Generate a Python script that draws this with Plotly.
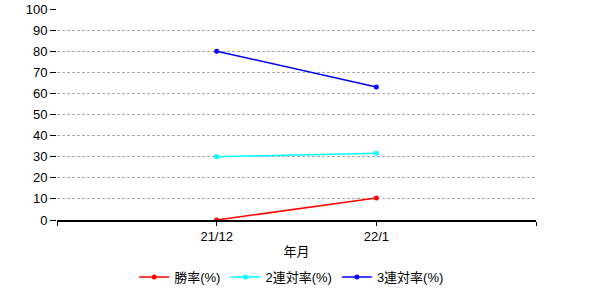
import plotly.graph_objects as go

categories = ["21/12", "22/1"]
win_rate = [0, 10.4]
rentai_rate = [30, 31.6]
sanrentai_rate = [80, 63]
series_names = ["勝率(%)", "2連対率(%)", "3連対率(%)"]
series_colors = ["#FF0000", "#00FFFF", "#0000FF"]
y_ticks = list(range(0, 101, 10))

xpos = list(range(len(categories)))

fig = go.Figure()
for name, vals, col in zip(series_names, [win_rate, rentai_rate, sanrentai_rate], series_colors):
    fig.add_trace(go.Scatter(
        x=xpos, y=vals, name=name, mode="lines+markers",
        line=dict(color=col, width=1.5),
        marker=dict(color=col, size=5),
    ))

fig.update_layout(
    width=600, height=300,
    margin=dict(l=57, r=64, t=9, b=80, autoexpand=False),
    paper_bgcolor="white", plot_bgcolor="white",
    font=dict(family="Arial, Liberation Sans, Noto Sans CJK JP", size=13, color="black"),
    showlegend=True,
    legend=dict(orientation="h", x=0.49, xanchor="center", y=-0.27, yanchor="middle",
                font=dict(size=13, family="Arial, Noto Sans CJK JP"), itemwidth=30,
                tracegroupgap=0),
)
fig.update_xaxes(
    range=[-1, 2], tickmode="array", tickvals=[-1, 0, 1, 2],
    ticktext=[""] + categories + [""],
    showgrid=False, zeroline=False, automargin=False,
    showline=True, linecolor="black", linewidth=1.5,
    ticks="outside", ticklen=4, tickcolor="black",
    title=dict(text="年月", standoff=4, font=dict(size=13, family="Noto Sans CJK JP, Arial")),
)
fig.update_yaxes(
    range=[0, 100], tickmode="array", tickvals=y_ticks,
    showgrid=True, gridcolor="#AAAAAA", griddash="3px,2px", gridwidth=1,
    zeroline=False, showline=False, automargin=False,
    ticks="outside", ticklen=6, tickcolor="black",
)

fig.write_html("out.html")
